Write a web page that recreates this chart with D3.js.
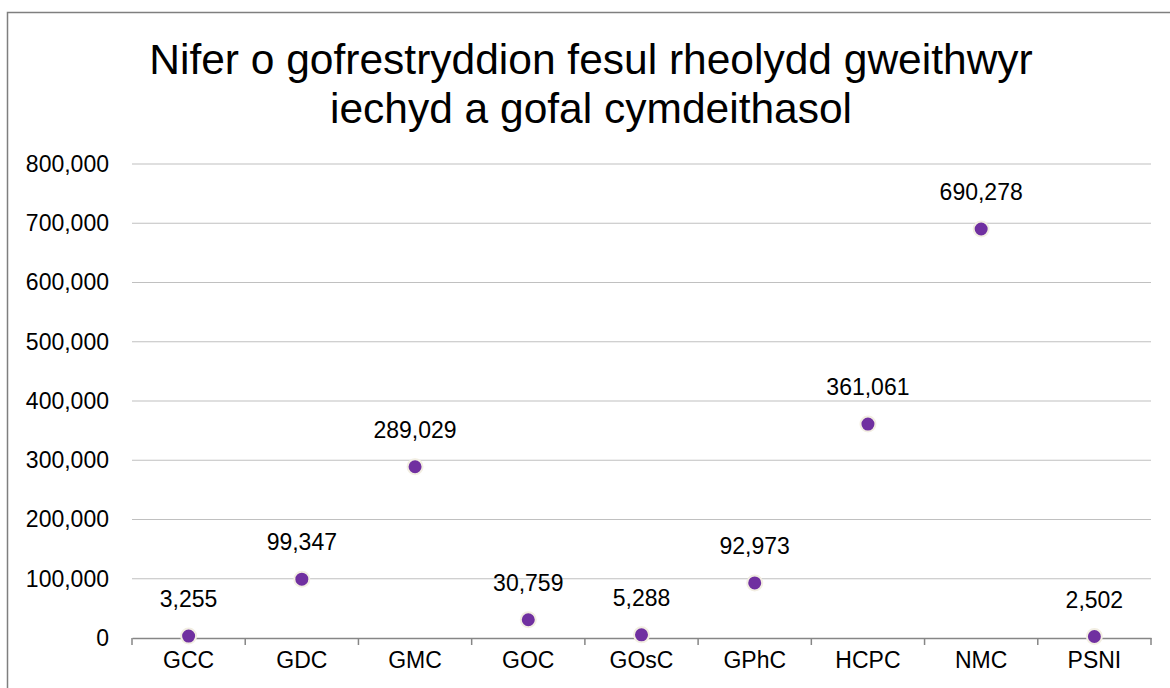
<!DOCTYPE html>
<html lang="cy">
<head>
<meta charset="UTF-8">
<title>Nifer o gofrestryddion</title>
<script src="https://d3js.org/d3.v7.min.js"></script>
<style>
    body { margin: 0; background: #fff; font-family: 'Liberation Sans', Arial, sans-serif; }
</style>
</head>
<body>
<svg id="chart"></svg>
<script>
    const regulators = ["GCC", "GDC", "GMC", "GOC", "GOsC", "GPhC", "HCPC", "NMC", "PSNI"];
    const registrants = [3255, 99347, 289029, 30759, 5288, 92973, 361061, 690278, 2502];
    const yTicks = [0, 100000, 200000, 300000, 400000, 500000, 600000, 700000, 800000];
    const titleLines = ["Nifer o gofrestryddion fesul rheolydd gweithwyr", "iechyd a gofal cymdeithasol"];

    const W = 1170, H = 688;
    const margin = { top: 164, right: 19, bottom: 50, left: 132 };
    const width = W - margin.left - margin.right,
        height = H - margin.top - margin.bottom;

    const svg = d3.select("#chart").attr("width", W).attr("height", H);

    // outer chart border (runs off the right and bottom edges)
    svg.append("rect")
        .attr("x", 7.5).attr("y", 12.5)
        .attr("width", W).attr("height", H)
        .attr("fill", "none").attr("stroke", "#7f7f7f").attr("stroke-width", 1.5);

    svg.append("text")
        .attr("text-anchor", "middle")
        .attr("font-size", 42.5)
        .attr("fill", "#000")
        .selectAll("tspan")
        .data(titleLines)
        .join("tspan")
        .attr("x", 591)
        .attr("y", (d, i) => 74 + i * 49)
        .text(d => d);

    const g = svg.append("g").attr("transform", `translate(${margin.left},${margin.top})`);

    const x = d3.scaleBand().domain(regulators).range([0, width]);
    const y = d3.scaleLinear().domain([0, 800000]).range([height, 0]);

    // gridlines
    g.append("g")
        .selectAll("line")
        .data(yTicks.filter(d => d > 0))
        .join("line")
        .attr("x1", 0).attr("x2", width)
        .attr("y1", d => y(d)).attr("y2", d => y(d))
        .attr("stroke", "#c0c0c0").attr("stroke-width", 1.2);

    // y axis labels
    const yAxis = g.append("g")
        .call(d3.axisLeft(y).tickValues(yTicks).tickFormat(d3.format(",")).tickSize(0).tickPadding(23));
    yAxis.select(".domain").remove();
    yAxis.selectAll("text")
        .attr("font-family", "'Liberation Sans', Arial, sans-serif")
        .attr("font-size", 23).attr("fill", "#000");

    // x axis
    const xAxis = g.append("g").attr("transform", `translate(0,${height})`)
        .call(d3.axisBottom(x).tickSize(0).tickPadding(14));
    xAxis.select(".domain").attr("stroke", "#868686").attr("stroke-width", 1.5);
    xAxis.selectAll("text")
        .attr("font-family", "'Liberation Sans', Arial, sans-serif")
        .attr("font-size", 23).attr("fill", "#000");

    // category boundary ticks
    g.append("g")
        .selectAll("line")
        .data(regulators.concat(["end"]))
        .join("line")
        .attr("x1", (d, i) => i < regulators.length ? x(d) : width)
        .attr("x2", (d, i) => i < regulators.length ? x(d) : width)
        .attr("y1", height).attr("y2", height + 7)
        .attr("stroke", "#868686").attr("stroke-width", 1.5);

    const points = regulators.map((r, i) => ({ name: r, value: registrants[i] }));

    g.selectAll(".dot")
        .data(points)
        .join("circle")
        .attr("class", "dot")
        .attr("cx", d => x(d.name) + x.bandwidth() / 2)
        .attr("cy", d => y(d.value))
        .attr("r", 7.5)
        .attr("fill", "#7030a0")
        .attr("stroke", "#f2eee2")
        .attr("stroke-width", 2);

    g.selectAll(".lbl")
        .data(points)
        .join("text")
        .attr("class", "lbl")
        .attr("x", d => x(d.name) + x.bandwidth() / 2)
        .attr("y", d => y(d.value) - 29)
        .attr("text-anchor", "middle")
        .attr("font-size", 23)
        .attr("fill", "#000")
        .text(d => d3.format(",")(d.value));
</script>
</body>
</html>
